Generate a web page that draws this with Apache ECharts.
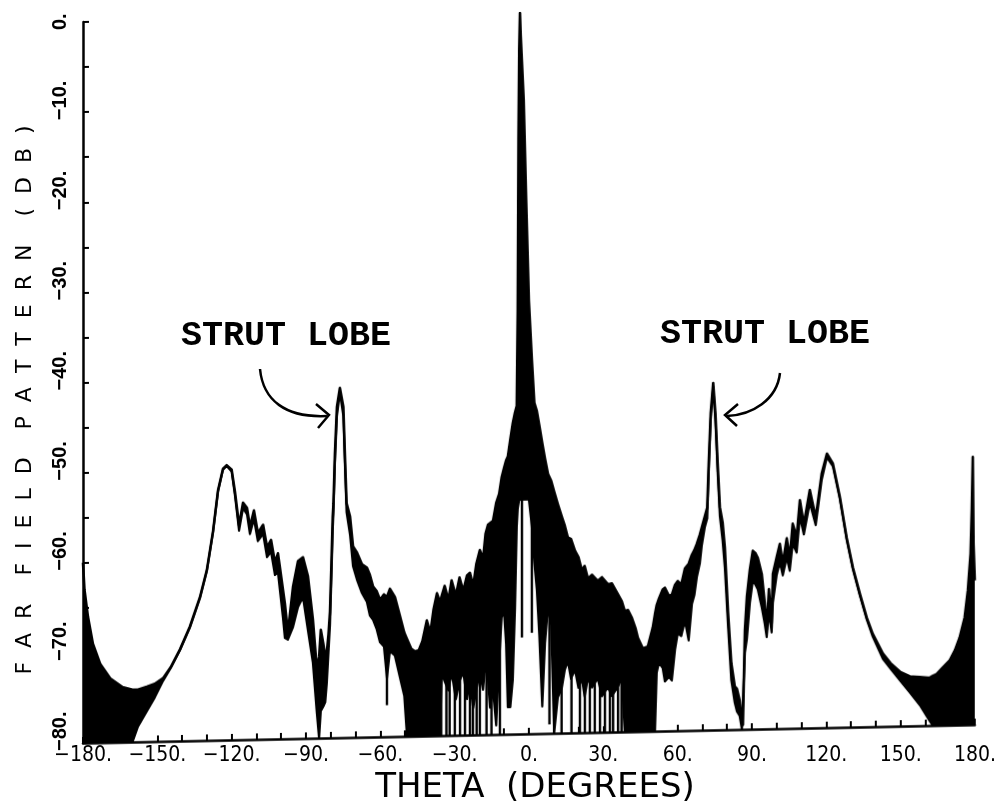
<!DOCTYPE html>
<html>
<head>
<meta charset="utf-8">
<script src="https://cdn.jsdelivr.net/npm/echarts@6.0.0/dist/echarts.min.js"></script>
<style>
html,body{margin:0;padding:0;background:#fff;}
#wrap{position:relative;width:1001px;height:811px;overflow:hidden;background:#fff;}
#plot,#text{position:absolute;left:0;top:0;width:1001px;height:811px;}
#plot{transform:skewY(-1.18deg);transform-origin:83px 0;}
</style>
</head>
<body>
<div id="wrap"><div id="plot"></div><div id="text"></div></div>
<script>
// ---------- tick labels / texts ----------
const xTicks = [-180,-150,-120,-90,-60,-30,0,30,60,90,120,150,180];
const yTicks = [-80,-70,-60,-50,-40,-30,-20,-10,0];
const xTitle = 'THETA  (DEGREES)';
const yTitleWords = ['FAR','FIELD','PATTERN','(DB)'];
const annotationText = 'STRUT LOBE';

// ---------- far-field pattern ----------
// each entry: [theta (deg), upper envelope (dB), lower envelope (dB)]
const leftWing = [
 [-180,-60,-80],[-179.4,-63,-80],[-178,-66,-80],[-176,-69,-80],[-173,-71.3,-80],
 [-169,-72.9,-80],[-164,-73.9,-80],[-160,-74.2,-80],[-157.8,-74.2,-78.3],[-154.2,-73.9,-76.6],
 [-151,-73.6,-75.1],[-147.7,-73,-73.3],[-144.6,-71.8,-71.9],[-140.8,-69.8,-69.9],[-136.8,-67.3,-67.4],
 [-132.8,-64.1,-64.2],[-130,-61.1,-61.2],[-127.5,-56.8,-56.9],[-125.5,-52.3,-52.4],[-123.5,-49.9,-50],
 [-122,-49.5,-49.6],[-120,-50,-50.2],[-118.6,-52.6,-53],[-117,-56.2,-56.8],[-115.4,-53.7,-54.3],
 [-113.8,-54.3,-55],[-112.6,-56.4,-57.2],[-111,-54.6,-55.5],[-109.4,-57.1,-58],[-107.3,-56.2,-57.2],
 [-105.7,-58.7,-59.8],[-104.1,-57.9,-59.2],[-102.5,-60.4,-61.8],[-101.3,-59.4,-61.5],[-100.5,-61,-63.5],
 [-99.3,-63.4,-66.5],[-98.5,-65,-68.8],[-97.3,-68.2,-69],[-95.2,-63.1,-67.6],[-93.2,-60.3,-65.4],
 [-91.2,-59.9,-64.3],[-89.2,-62,-68],[-87.2,-66.8,-71.6],[-85.6,-72.3,-77.2]
];
const leftStrut = [
 [-84.7,-71,-80],[-84,-68,-77],[-83,-69.5,-76.5],[-82.2,-71,-76],[-81.6,-70.5,-74],
 [-80.9,-68.5,-70.5],[-80.3,-66,-67.5],[-79.7,-60.5,-62],[-79.2,-55.5,-57],[-78.9,-54,-55],
 [-78.3,-48.4,-49.4],[-77.5,-43.3,-44.3],[-76.3,-41.2,-41.7],[-74.9,-43.3,-44.3],[-74.3,-48.4,-49.4],
 [-73.6,-54,-55],[-72.2,-55.5,-57.5],[-71,-58.8,-61],[-69.4,-59.5,-62.5],[-67.4,-60.8,-64],
 [-65.4,-61.2,-65],[-64.2,-62,-66.5],[-62.9,-63.3,-67],[-61.5,-63.8,-68],[-60.1,-64.8,-69.5],
 [-58.5,-64.2,-70],[-57.3,-64.5,-73.5],[-56.1,-63.6,-70.5],[-54.1,-64.5,-71],[-52,-66.7,-73.5],
 [-50.3,-68.5,-75.5],[-49.2,-69.2,-80]
];
const centerLeft = [
 [-47.5,-70.3,-80],[-46,-70.6,-80],[-44.5,-70.5,-80],[-43,-69.5,-80],[-41.2,-67.2,-80],
 [-39.8,-68.6,-80],[-38.5,-66,-80],[-37.1,-64.2,-80],[-35.9,-65.2,-80],[-35.2,-64.5,-73],
 [-34,-63.4,-74],[-32.5,-65,-75],[-31.2,-62.8,-73],[-29.5,-64.5,-76],[-28,-62.5,-74],
 [-26.5,-64,-73],[-25,-62.3,-76],[-23.8,-62,-74],[-22.5,-63.5,-77],[-21.2,-61,-75],
 [-19.8,-59.5,-73],[-18.5,-60.5,-75],[-17.5,-57.7,-72],[-16.5,-56.7,-74],[-15.7,-56.6,-77],
 [-14.5,-56.3,-75],[-13.2,-54.3,-79],[-12,-53.3,-72],[-11,-51.5,-67],[-10,-50.4,-66.5],
 [-9.2,-49.6,-70],[-8.5,-49.2,-77],[-7.5,-47.3,-77],[-6.5,-45.5,-74],[-5.6,-44.3,-66]
];
const mainBeam = [
 [-4.9,-43.6,-57],[-4.5,-33,-55],[-4.2,-14,-54.5],[-3.9,-4,-54],[-3.6,0,-54],
 [-3.3,-2.5,-54],[-2.8,-5.5,-54],[-2.1,-9.7,-54],[-1.1,-20.8,-54],[0,-32,-54],
 [1.2,-38.5,-57],[2.2,-43.3,-61]
];
const centerRight = [
 [3.2,-44.2,-64],[4.2,-45.8,-69],[5.4,-47.8,-77],[6.5,-49.5,-70],[7.7,-51.2,-66],
 [9,-52,-68],[10.2,-53.2,-80],[11.7,-54.6,-76],[13.3,-56,-75],[14.5,-57,-73],
 [15.7,-58.3,-72],[17,-58.5,-74],[18.6,-59.8,-73],[20,-60.5,-75],[21.4,-62,-74],
 [22.5,-61.5,-76],[23.8,-62.9,-74],[25.5,-62.5,-75],[27.8,-63.2,-74],[29.5,-62.8,-76],
 [31.9,-63.6,-75],[33.5,-63.5,-76],[35.9,-64.7,-75],[37.5,-65.5,-74],[38.7,-66.6,-80],
 [40,-66.5,-80],[41.6,-67.4,-80],[43,-68.5,-80],[44,-69.6,-80],[46,-70.8,-80],
 [48,-70.6,-80],[50,-68.5,-80],[50.9,-67,-80]
];
const rightStrut = [
 [51.6,-66,-73.5],[52.5,-65.3,-72.4],[54,-64.3,-73],[54.9,-64.1,-74.5],[56.5,-65,-74],
 [57.7,-64.9,-74.4],[59,-63.8,-71],[60.1,-63.4,-69.2],[61.5,-63.8,-69.5],[63,-62,-67.8],
 [64.5,-61.5,-70],[65.8,-60.5,-66],[66.8,-60,-65],[67.8,-59.3,-63],[69,-58.3,-61.5],
 [69.8,-57.5,-59.5],[71,-56.3,-57.5],[72,-55.3,-56.5],[72.6,-50.4,-51.4],[73.4,-44.8,-45.6],
 [74.4,-41.5,-41.9],[75.3,-44.9,-45.7],[76.2,-50.4,-51.4],[77.1,-55.3,-56.3],[78.2,-57,-59],
 [79.1,-59.8,-62],[80.4,-67,-68.5],[81.7,-72.6,-74.5],[83.1,-75.2,-77],[84,-75.5,-78],
 [85.1,-76.8,-78.5],[86,-79,-80],[86.4,-79.5,-80]
];
const rightWing = [
 [87.2,-69,-71.5],[88,-65.3,-70],[89.2,-62.3,-66],[90.4,-60.2,-63.5],[91.5,-60.5,-64],
 [92.4,-61,-64.5],[94,-62.8,-66.5],[95.2,-66,-68.3],[96,-69,-69.8],[96.9,-64.5,-67],
 [98,-68.3,-69.3],[98.5,-62.8,-66],[100,-61,-63],[101.3,-59.5,-61.5],[102.5,-61.7,-63],
 [104.1,-58.9,-61],[105.3,-61.1,-62.5],[106.5,-57.3,-59.5],[108.1,-58.8,-60.5],[109.4,-54.7,-56.5],
 [111,-57.4,-58.5],[113.4,-53.6,-55],[115.8,-56.7,-57.5],[118.2,-51.8,-52.5],[120.3,-49.6,-50],
 [122.7,-50.7,-51],[125.5,-54.4,-54.6],[128.3,-59,-59.2],[130.8,-62.3,-62.5],[133.6,-65.2,-65.4],
 [136.4,-67.9,-68.1],[138.8,-69.7,-70],[142.9,-71.9,-72.5],[146,-73,-73.6],[150,-74,-75],
 [153.8,-74.5,-76.3],[157.8,-74.6,-77.7],[161.8,-74.7,-79.5],[163,-74.5,-80],[164.6,-74.3,-80],
 [167,-73.6,-80],[169.9,-72.8,-80],[172,-71.7,-80],[173.9,-70.3,-80],[175.9,-68.1,-80],
 [177.2,-65.1,-80],[178.3,-61,-80],[178.8,-56,-80],[179.2,-50.3,-80],[179.5,-60,-80],[180,-64,-80]
];
// thin nulls: [theta, top dB, bottom dB]
const nulls = [
 [-57.3,-70,-76.5],
 [-35.4,-72,-80],[-33.3,-72,-80],[-32,-72,-80],[-29.9,-72,-80],[-27.8,-72,-80],[-25.8,-72,-80],
 [-23.8,-72,-80],[-22.6,-72,-80],[-21.1,-72,-80],[-19.8,-72,-80],[-17.1,-72,-80],[-15.1,-72,-80],
 [-11.7,-66,-80],[-2.8,-54,-69.3],[1.2,-54,-68.8],[8.3,-66,-79],
 [13.2,-72,-80],[17.2,-72,-80],[20.6,-72,-80],[22.6,-72,-80],[24.6,-72,-80],[26.6,-72,-80],
 [28.7,-72,-80],[30.7,-72,-80],[32.7,-72,-80],[34,-72,-80],[36,-72,-80],[37.4,-72,-80]
];

const pattern = [].concat(leftWing, leftStrut, centerLeft, mainBeam, centerRight, rightStrut, rightWing);
const upper = pattern.map(p => [p[0], p[1]]);
const lower = pattern.map(p => [p[0], p[2]]);

const xMin = xTicks[0], xMax = xTicks[xTicks.length-1], xStep = xTicks[1]-xTicks[0];
const yMin = yTicks[0], yMax = yTicks[yTicks.length-1], yStep = yTicks[1]-yTicks[0];
const fmt = v => (v < 0 ? '\u2212' : '') + Math.abs(v) + '.';
const yTitle = yTitleWords.map(w => w.split('').join('\u2007')).join('\u2007\u2007');

// ---------- plot (data, axis lines, ticks) ----------
const plot = echarts.init(document.getElementById('plot'), null, {renderer:'canvas'});
function axisCommon(extra){
  return Object.assign({
    z: 10,
    axisLine: {onZero:false, lineStyle: {color:'#000', width:2.5}},
    axisTick: {inside:true, length:6, lineStyle:{color:'#000', width:2}},
    axisLabel: {show:false},
    splitLine: {show:false}
  }, extra);
}
plot.setOption({
  animation: false,
  backgroundColor: '#fff',
  grid: {left:83, right:26, top:22, bottom:68, outerBoundsMode:'none'},
  xAxis: axisCommon({type:'value', position:'bottom', min:xMin, max:xMax, interval:xStep,
    minorTick:{show:true, splitNumber:3, length:6, lineStyle:{color:'#000', width:2}}}),
  yAxis: axisCommon({type:'value', position:'left', min:yMin, max:yMax, interval:yStep,
    minorTick:{show:true, splitNumber:2, length:6, lineStyle:{color:'#000', width:2}}}),
  series: [
    {type:'line', data:upper, symbol:'none', silent:true, z:1,
     lineStyle:{width:0, opacity:0}, areaStyle:{color:'#000', opacity:1, origin:'start'}},
    {type:'line', data:lower, symbol:'none', silent:true, z:2,
     lineStyle:{width:0, opacity:0}, areaStyle:{color:'#fff', opacity:1, origin:'start'}},
    {type:'line', data:upper, symbol:'none', silent:true, z:3,
     lineStyle:{color:'#000', width:2.6, join:'round'}},
    {type:'line', data:lower, symbol:'none', silent:true, z:3,
     lineStyle:{color:'#000', width:2.2, join:'round'}},
    {type:'custom', data:nulls, silent:true, z:4, encode:{x:0, y:[1,2]},
     renderItem: function(params, api){
       const a = api.coord([api.value(0), api.value(1)]);
       const b = api.coord([api.value(0), api.value(2)]);
       return {type:'line', shape:{x1:a[0], y1:a[1], x2:b[0], y2:b[1]},
               style:{stroke:'#000', lineWidth:2.4}};
     }}
  ]
});

// ---------- texts (labels, titles, annotations) ----------
const text = echarts.init(document.getElementById('text'), null, {renderer:'canvas'});
const annFont = 'bold 35px "Liberation Mono", "DejaVu Sans Mono", monospace';
const arrowStyle = {stroke:'#000', lineWidth:2.5, fill:null};
text.setOption({
  animation: false,
  grid: [
    {left:83, right:26, top:22, bottom:68, outerBoundsMode:'none'},
    {left:83, right:26, top:30, bottom:60, outerBoundsMode:'none'}
  ],
  xAxis: [
    {gridIndex:0, type:'value', position:'bottom', min:xMin, max:xMax, interval:xStep,
     axisLine:{show:false, onZero:false}, axisTick:{show:false}, splitLine:{show:false},
     axisLabel:{margin:2, color:'#000', fontSize:21, hideOverlap:false,
       fontFamily:'"Liberation Sans Narrow", "DejaVu Sans Condensed", "Liberation Sans", sans-serif',
       formatter: fmt},
     name:xTitle, nameLocation:'middle', nameGap:28,
     nameTextStyle:{color:'#000', fontFamily:'"DejaVu Sans", sans-serif', fontSize:34, padding:[0,0,0,12]}},
    {gridIndex:1, type:'value', min:xMin, max:xMax, show:false}
  ],
  yAxis: [
    {gridIndex:0, type:'value', min:yMin, max:yMax, show:false},
    {gridIndex:1, type:'value', position:'left', min:yMin, max:yMax, interval:yStep,
     axisLine:{show:false, onZero:false}, axisTick:{show:false}, splitLine:{show:false},
     axisLabel:{rotate:90, align:'left', margin:13, color:'#000', fontSize:20, fontWeight:'bold', hideOverlap:false,
       fontFamily:'"Liberation Sans", sans-serif', formatter: fmt},
     name:yTitle, nameLocation:'middle', nameRotate:90, nameGap:47,
     nameTextStyle:{color:'#000', fontFamily:'"DejaVu Sans", sans-serif', fontSize:22, padding:[0,19,0,0]}}
  ],
  series: [],
  graphic: [
    {type:'text', x:286, y:336, style:{text:annotationText, font:annFont, fill:'#000', align:'center', verticalAlign:'middle'}},
    {type:'text', x:765, y:334, style:{text:annotationText, font:annFont, fill:'#000', align:'center', verticalAlign:'middle'}},
    {type:'bezierCurve', shape:{x1:260, y1:369, cpx1:263, cpy1:400, cpx2:285, cpy2:418, x2:327, y2:416}, style:arrowStyle},
    {type:'polyline', shape:{points:[[316,404],[329,415],[318,428]]}, style:arrowStyle},
    {type:'bezierCurve', shape:{x1:780, y1:373, cpx1:777, cpy1:400, cpx2:752, cpy2:415, x2:727, y2:416}, style:arrowStyle},
    {type:'polyline', shape:{points:[[738,404],[725,415],[737,426]]}, style:arrowStyle}
  ]
});
</script>
</body>
</html>
